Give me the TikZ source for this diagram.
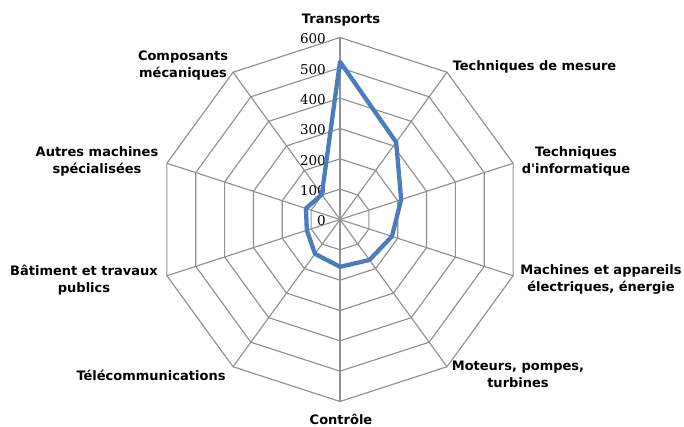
\documentclass[tikz,border=0pt]{standalone}
\usepackage{fontspec}
\setmainfont{DejaVu Sans}[Ligatures=TeXOff]
\newfontfamily\numfont{DejaVu Serif}
\definecolor{gridgray}{RGB}{145,145,145}
\definecolor{seriesblue}{RGB}{74,126,187}
\begin{document}
\begin{tikzpicture}[x=1pt,y=1pt,
  gridline/.style={draw=gridgray, line width=1.15pt, line join=miter},
  serie/.style={draw=seriesblue, line width=4.3pt, line join=round, line cap=round},
  catlabel/.style={font=\fontsize{13}{17}\selectfont\bfseries, align=center, inner sep=0pt},
  vallabel/.style={font=\numfont\fontsize{13.5}{14}\selectfont, anchor=east, inner sep=0pt}]
\useasboundingbox (0,0) rectangle (684,426);
\coordinate (c) at (340,206.5);
\begin{scope}[shift={(c)}]
  % rings
  \foreach \k in {1,...,6}{
    \pgfmathsetmacro{\rr}{\k*30.333}
    \draw[gridline] (90:\rr) \foreach \a in {54,18,-18,-54,-90,-126,-162,162,126}{ -- (\a:\rr)} -- cycle;
  }
  % spokes
  \foreach \a in {90,54,18,-18,-54,-90,-126,-162,162,126}{
    \draw[gridline] (0,0) -- (\a:182);
  }
  % value labels
  \foreach \v [count=\i from 0] in {0,100,200,300,400,500,600}{
    \node[vallabel] (v\i) at (-14,{\i*30.333-1.5}) {\v};
  }
  % data series
  \draw[serie] (90:{520*0.30333}) -- (54:{315*0.30333}) -- (18:{212*0.30333})
    -- (-18:{180*0.30333}) -- (-54:{165*0.30333}) -- (-90:{156*0.30333})
    -- (-126:{140*0.30333}) -- (-162:{115*0.30333}) -- (162:{118*0.30333})
    -- (126:{102*0.30333}) -- cycle;
\end{scope}
% category labels
\node[catlabel] (transports) at (341,406) {Transports};
\node[catlabel] (mesure) at (534.5,359.3) {Techniques de mesure};
\node[catlabel] (informatique) at (576,265) {Techniques\\d'informatique};
\node[catlabel] (machines) at (601,147) {Machines et appareils\\électriques, énergie};
\node[catlabel] (moteurs) at (518,52) {Moteurs, pompes,\\turbines};
\node[catlabel] (controle) at (341,7) {Contrôle};
\node[catlabel] (telecom) at (151,51) {Télécommunications};
\node[catlabel] (batiment) at (84,146) {Bâtiment et travaux\\publics};
\node[catlabel] (autres) at (97,264.3) {Autres machines\\spécialisées};
\node[catlabel] (composants) at (183,360) {Composants\\mécaniques};
\end{tikzpicture}
\end{document}
